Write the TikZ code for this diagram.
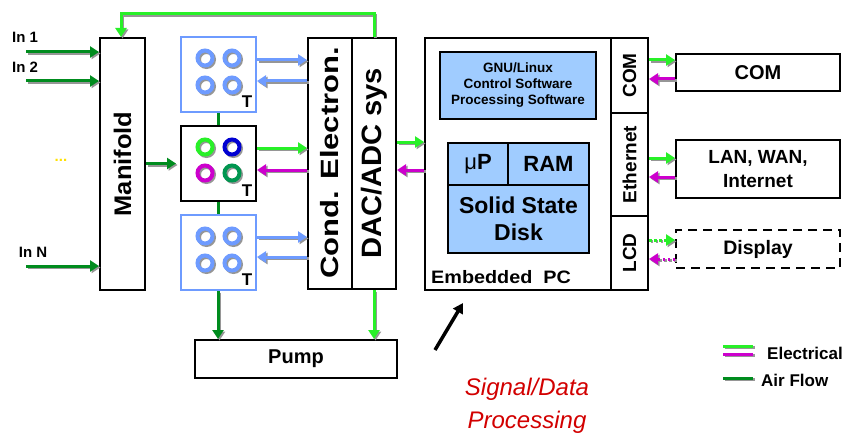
\documentclass[tikz,border=0pt]{standalone}
\usepackage{fontspec}
\setmainfont{Liberation Sans}
\usetikzlibrary{arrows.meta,calc}
\definecolor{lg}{RGB}{40,240,40}
\definecolor{dg}{RGB}{0,140,30}
\definecolor{mg}{RGB}{204,0,204}
\definecolor{lb}{RGB}{110,155,255}
\definecolor{fb}{RGB}{160,204,255}
\definecolor{sred}{RGB}{210,0,0}
\definecolor{shgray}{RGB}{150,150,150}
\definecolor{ylw}{RGB}{255,225,0}
\definecolor{rblue}{RGB}{0,0,210}
\definecolor{rdg}{RGB}{0,150,80}
\newcommand{\fsz}[1]{\fontsize{#1}{#1}\selectfont}
\newcommand{\mkbox}[6]{\node[#6,anchor=north west,minimum width={(#4)-(#2)},minimum height={(#5)-(#3)}] (#1) at (#2,#3) {};}
\newcommand{\shdraw}[2]{\begin{scope}[transform canvas={shift={(1.5pt,-1.5pt)}}]\draw[#1,draw=shgray] #2;\end{scope}\draw[#1] #2;}
\begin{document}
\begin{tikzpicture}[x=1pt,y=-1pt,
  box/.style={draw=black,line width=2pt,fill=white,inner sep=0pt},
  bbox/.style={draw=lb,line width=2pt,fill=white,inner sep=0pt},
  fbox/.style={draw=black,line width=2pt,fill=fb,inner sep=0pt},
  dbox/.style={draw=black,line width=2pt,fill=white,inner sep=0pt,dash pattern=on 9pt off 6pt},
  con/.style={line width=3pt,-{Triangle[length=9pt,width=11pt]}},
  dcon/.style={con,dash pattern=on 2.5pt off 2.5pt},
  ring/.style={draw=#1,line width=4pt},
  lbl/.style={font=\bfseries\fsz{#1},inner sep=0pt},
  vlbl/.style={lbl=#1,rotate=90}]
\useasboundingbox (0,0) rectangle (849,436);
% boxes
\mkbox{man}{99}{37}{144}{289}{box}
\mkbox{s1}{180}{36}{255}{111}{bbox}
\mkbox{s2}{180}{125}{255}{200}{box}
\mkbox{s3}{180}{214}{255}{289}{bbox}
\mkbox{cond}{307}{37}{351}{288}{box}
\mkbox{dac}{351}{37}{395}{288}{box}
\mkbox{pc}{424}{37}{647}{289}{box}
\mkbox{comc}{610}{37}{647}{112}{box}
\mkbox{ethc}{610}{112}{647}{215}{box}
\mkbox{lcdc}{610}{215}{647}{289}{box}
\mkbox{gnu}{439}{51}{595}{118}{fbox}
\mkbox{up}{447}{142}{507}{184}{fbox}
\mkbox{ram}{507}{142}{588}{184}{fbox}
\mkbox{ssd}{447}{184}{588}{252}{fbox}
\mkbox{comr}{675}{53}{839}{90}{box}
\mkbox{lan}{675}{139}{839}{197}{box}
\mkbox{disp}{675}{229}{839}{267}{dbox}
\mkbox{pump}{194}{339}{396}{377}{box}
% labels
\node[lbl=15] (in1) at (25,37) {In 1};
\node[lbl=15] (in2) at (25,67) {In 2};
\node[lbl=15] (inN) at (33,252) {In N};
\node[lbl=15,text=ylw] (dots) at (61,160) {...};
\node[vlbl=24] (manT) at (man) {\scalebox{1.06}[1]{Manifold}};
\node[vlbl=25] (condT) at ($(cond)+(0,-0.5)$) {\scalebox{1.24}[1]{Cond. Electron.}};
\node[vlbl=28] (dacT) at (dac) {\scalebox{1.04}[1]{DAC/ADC sys}};
\node[lbl=13.5,align=center,font=\bfseries\fontsize{13.5}{16}\selectfont] (gnuT) at (gnu) {GNU/Linux\\Control Software\\Processing Software};
\node[lbl=22] (upT) at (up) {\textmd{μ}P};
\node[lbl=22] (ramT) at (ram) {RAM};
\node[lbl=23,align=center,font=\bfseries\fontsize{23}{27}\selectfont] (ssdT) at (ssd) {Solid State\\Disk};
\node[lbl=18,anchor=west] (pcT) at (431,277) {\scalebox{1.1}[1]{Embedded\ \ PC}};
\node[vlbl=19] (comcT) at (comc) {COM};
\node[vlbl=19] (ethcT) at (ethc) {Ethernet};
\node[vlbl=19] (lcdcT) at (lcdc) {LCD};
\node[lbl=20] (comrT) at (comr) {COM};
\node[lbl=19,align=center,font=\bfseries\fontsize{19}{24}\selectfont] (lanT) at (lan) {LAN, WAN,\\Internet};
\node[lbl=19.5] (dispT) at (disp) {Display};
\node[lbl=20] (pumpT) at (pump) {Pump};
\node[lbl=17] (t1) at (247,102) {T};
\node[lbl=17] (t2) at (247,191) {T};
\node[lbl=17] (t3) at (247,280) {T};
\node[font=\itshape\fontsize{24}{33}\selectfont,text=sred,align=center,inner sep=0pt] (sig) at (527,406) {Signal/Data\\Processing};
\node[lbl=17,anchor=west] (legE) at (767,353) {Electrical};
\node[lbl=17,anchor=west] (legA) at (761,380) {Air Flow};
% rings
\foreach \cx/\cy/\c in {205/58/lb,232/58/lb,205/85/lb,232/85/lb,
  205/147/lg,232/147/rblue,205/173/mg,232/173/rdg,
  205/236/lb,232/236/lb,205/263/lb,232/263/lb}
  {\shdraw{ring=\c}{(\cx,\cy) circle (7.5)}}
% coordinates for free ends
\coordinate (a1) at (26,52);
\coordinate (a2) at (26,81);
\coordinate (aN) at (26,266);
\coordinate (vx) at (218,0);
\coordinate (bs) at (435,350);
\coordinate (be) at (463,303);
% connectors
\shdraw{con,dg}{(a1) -- (man.west |- a1)}
\shdraw{con,dg}{(a2) -- (man.west |- a2)}
\shdraw{con,dg}{(aN) -- (man.west |- aN)}
\shdraw{con,dg,shorten >=4pt}{(man.east |- s2) -- (s2.west)}
\draw[line width=3pt,dg] (s1.south -| vx) -- (s2.north -| vx);
\draw[line width=3pt,dg] (s2.south -| vx) -- (s3.north -| vx);
\shdraw{con,dg}{(s3.south -| vx) -- (pump.north -| vx)}
\shdraw{con,lg}{(dac.north) -- ($(dac.north)+(0,-23)$) -| ($(man.north)+(-1.5,0)$)}
\shdraw{con,lg}{(dac.south) -- (pump.north -| dac.south)}
\shdraw{con,lb}{(s1.east |- 0,60) -- (cond.west |- 0,60)}
\shdraw{con,lb}{(cond.west |- 0,81) -- (s1.east |- 0,81)}
\shdraw{con,lg}{(s2.east |- 0,148) -- (cond.west |- 0,148)}
\shdraw{con,mg}{(cond.west |- 0,170) -- (s2.east |- 0,170)}
\shdraw{con,lb}{(s3.east |- 0,237) -- (cond.west |- 0,237)}
\shdraw{con,lb}{(cond.west |- 0,257) -- (s3.east |- 0,257)}
\shdraw{con,lg}{(dac.east |- 0,142) -- (pc.west |- 0,142)}
\shdraw{con,mg}{(pc.west |- 0,170) -- (dac.east |- 0,170)}
\shdraw{con,lg}{(comc.east |- 0,60) -- (comr.west |- 0,60)}
\shdraw{con,mg}{(comr.west |- 0,79) -- (comc.east |- 0,79)}
\shdraw{con,lg}{(ethc.east |- 0,158) -- (lan.west |- 0,158)}
\shdraw{con,mg}{(lan.west |- 0,177) -- (ethc.east |- 0,177)}
\shdraw{dcon,lg}{(lcdc.east |- 0,240) -- (disp.west |- 0,240)}
\shdraw{dcon,mg}{(disp.west |- 0,259) -- (lcdc.east |- 0,259)}
\draw[line width=3.5pt,-{Triangle[length=10pt,width=11pt]}] (bs) -- (be);
% legend
\coordinate (l1) at (723,346);
\coordinate (l2) at (723,354);
\coordinate (l3) at (723,378);
\shdraw{line width=3pt,lg}{(l1) -- ++(30,0)}
\shdraw{line width=3pt,mg}{(l2) -- ++(30,0)}
\shdraw{line width=3pt,dg}{(l3) -- ++(30,0)}
\end{tikzpicture}
\end{document}
